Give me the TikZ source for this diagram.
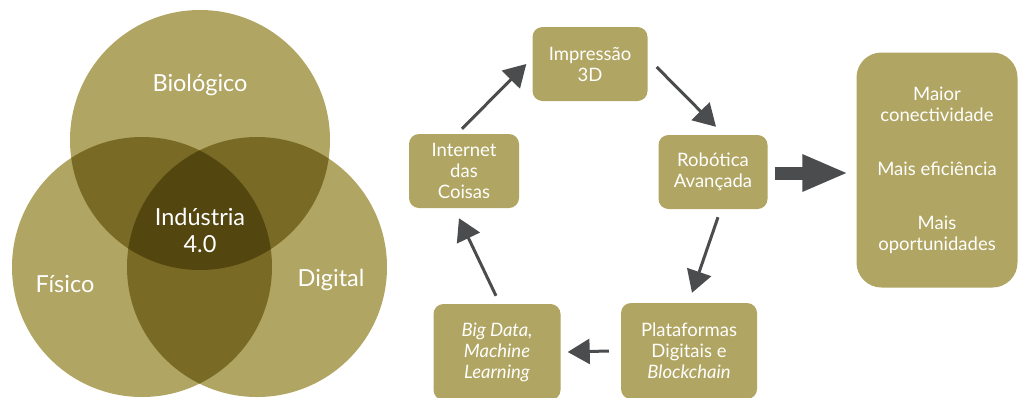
\documentclass[tikz,border=0pt]{standalone}
\usepackage{fontspec}
\setmainfont{Lato}
\usetikzlibrary{arrows.meta,positioning}
\definecolor{venolive}{RGB}{176,165,98}
\definecolor{venmid}{RGB}{121,107,38}
\definecolor{vendark}{RGB}{84,70,15}
\definecolor{arrowgray}{RGB}{75,76,78}

\begin{document}
\begin{tikzpicture}[x=1pt, y=-1pt,
    venntext/.style={text=white, align=center, font=\fontsize{23.5}{27}\selectfont},
    techbox/.style={rectangle, rounded corners=10pt, fill=venolive, text=white, align=center, font=\fontsize{18.5}{21}\selectfont, minimum height=74pt, inner sep=2pt},
    arrow/.style={-{Triangle[length=22pt,width=25pt]}, line width=3pt, draw=arrowgray},
    bigarrow/.style={-{Triangle[length=46pt,width=34pt]}, line width=13pt, draw=arrowgray}
]
    \useasboundingbox (0,0) rectangle (1019,397);

    % Venn
    \coordinate (cbio) at (200,140);
    \coordinate (cfis) at (142,267);
    \coordinate (cdig) at (257,267);
    \fill[venolive] (cbio) circle[radius=130pt];
    \fill[venolive] (cfis) circle[radius=130pt];
    \fill[venolive] (cdig) circle[radius=130pt];
    \begin{scope}
        \clip (cbio) circle[radius=130pt];
        \fill[venmid] (cfis) circle[radius=130pt];
        \fill[venmid] (cdig) circle[radius=130pt];
    \end{scope}
    \begin{scope}
        \clip (cfis) circle[radius=130pt];
        \fill[venmid] (cdig) circle[radius=130pt];
    \end{scope}
    \begin{scope}
        \clip (cbio) circle[radius=130pt];
        \clip (cfis) circle[radius=130pt];
        \fill[vendark] (cdig) circle[radius=130pt];
    \end{scope}
    \node[venntext] (bio) at (200,85) {Biológico};
    \node[venntext] (ind) at (200,230) {Indústria\\4.0};
    \node[venntext] (fis) at (65,284) {Físico};
    \node[venntext] (dig) at (331,280) {Digital};

    % ciclo
    \node[techbox, minimum width=115pt] (imp) at (590,64) {Impressão\\3D};
    \node[techbox, minimum width=110pt] (iot) at (464,171) {Internet\\das\\Coisas};
    \node[techbox, minimum width=109pt] (rob) at (713,172) {Robótica\\Avançada};
    \node[techbox, minimum width=127pt, minimum height=96pt] (big) at (497,352) {\itshape Big Data,\\\itshape Machine\\\itshape Learning};
    \node[techbox, minimum width=136pt, minimum height=96pt] (plat) at (689,351) {Plataformas\\Digitais e\\\itshape Blockchain};
    \node[techbox, rounded corners=25pt, minimum width=161pt, minimum height=235pt] (out) at (937,170)
        {Maior\\conectividade\\[33pt]Mais eficiência\\[33pt]Mais\\oportunidades};

    \draw[arrow] ([xshift=-2pt,yshift=5pt]iot.north) -- ([xshift=-6pt]imp.west);
    \draw[arrow] ([xshift=9pt,yshift=-3pt]imp.east) -- ([xshift=3pt,yshift=8pt]rob.north);
    \draw[arrow] ([xshift=5pt,yshift=-8pt]rob.south) -- ([xshift=3pt,yshift=10pt]plat.north);
    \draw[arrow] ([xshift=-12pt]plat.west) -- ([xshift=7pt]big.east);
    \draw[arrow] ([xshift=-1pt,yshift=8pt]big.north) -- ([xshift=-5pt,yshift=-10pt]iot.south);
    \draw[bigarrow] ([xshift=7pt,yshift=-1pt]rob.east) -- ([xshift=-8pt,yshift=-3pt]out.west);
\end{tikzpicture}
\end{document}
